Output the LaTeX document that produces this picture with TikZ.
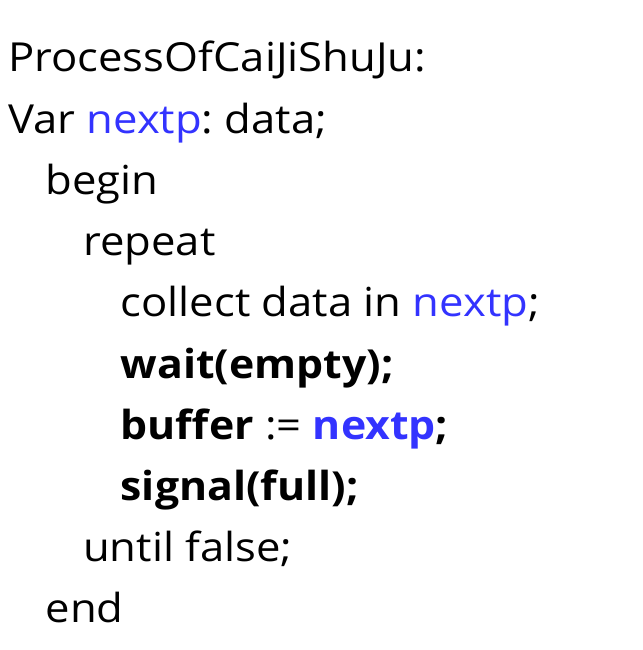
\documentclass[tikz,border=0pt]{standalone}
\usepackage{fontspec}
\setmainfont{Open Sans}[FakeStretch=1.09,BoldFeatures={FakeStretch=1.07}]
\frenchspacing
\definecolor{varblue}{RGB}{51,51,255}
\NewDocumentCommand{\codeline}{mmmm}{%
\node[codetext] (#1) at ({8+37.5*#2},{72+61.2*#3}) {#4};%
}
\NewDocumentCommand{\vname}{}{\textcolor{varblue}{nextp}}

\begin{document}
\begin{tikzpicture}[x=1pt,y=-1pt,
    codetext/.style={anchor=base west,inner sep=0pt,font=\fontsize{40}{48}\selectfont}]
        \useasboundingbox (0,0) rectangle (642,650);

        % header
        \codeline{title}{0}{0}{ProcessOfCaiJiShuJu:}
        \codeline{decl}{0}{1}{Var \vname: data;}

        % body
        \codeline{begin}{1}{2}{begin}
        \codeline{repeat}{2}{3}{repeat}
        \codeline{collect}{3}{4}{collect data in \vname;}
        \codeline{wait}{3}{5}{\textbf{wait(empty);}}
        \codeline{assign}{3}{6}{\textbf{buffer} := \textbf{\vname;}}
        \codeline{signal}{3}{7}{\textbf{signal(full);}}
        \codeline{until}{2}{8}{until false;}
        \codeline{end}{1}{9}{end}
    \end{tikzpicture}
\end{document}
